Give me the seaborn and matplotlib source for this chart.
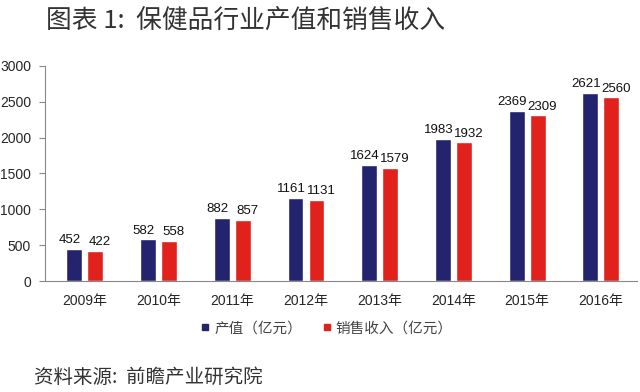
import numpy as np
import pandas as pd
import matplotlib
matplotlib.use('Agg')
import matplotlib.pyplot as plt
import seaborn as sns
from matplotlib.lines import Line2D

# data
years = ['2009年', '2010年', '2011年', '2012年', '2013年', '2014年', '2015年', '2016年']
output_value = [452, 582, 882, 1161, 1624, 1983, 2369, 2621]
sales_revenue = [422, 558, 857, 1131, 1579, 1932, 2309, 2560]
series_names = ['产值（亿元）', '销售收入（亿元）']
colors = ['#24246E', '#E0211C']

df = pd.DataFrame({
    'year': years * 2,
    'value': output_value + sales_revenue,
    'series': [series_names[0]] * len(years) + [series_names[1]] * len(years),
})

sns.set_style('white')
plt.rcParams['font.family'] = ['Liberation Sans', 'Noto Sans CJK SC', 'DejaVu Sans']

fig = plt.figure(figsize=(6.4, 3.92), dpi=100)
ax = fig.add_axes([0.0703, 0.283, 0.925, 0.549])

sns.barplot(data=df, x='year', y='value', hue='series', palette=colors,
            width=0.57, gap=0.25, saturation=1, ax=ax, legend=False)

# value labels, nudged apart a little so neighbours don't collide
for cont, dx in zip(ax.containers, [-3.2, 3.2]):
    for ann in ax.bar_label(cont, fmt='%d', padding=2, fontsize=9.5, color='#111111'):
        ann.xyann = (dx, 2)

ax.set_ylim(0, 3000)
ax.set_yticks(range(0, 3001, 500))
ax.set_xlim(-0.54, 7.49)
ax.set_xlabel('')
ax.set_ylabel('')
for s in ['top', 'right']:
    ax.spines[s].set_visible(False)
ax.spines['left'].set_color('#888888')
ax.spines['bottom'].set_color('#888888')
ax.tick_params(axis='y', left=True, length=4, color='#888888', labelsize=10, pad=6)
ax.tick_params(axis='x', bottom=False, labelsize=10, pad=6)

handles = [Line2D([], [], marker='s', color=c, linestyle='', markersize=4) for c in colors]
fig.legend(handles, series_names, loc='center', bbox_to_anchor=(0.508, 0.163), ncol=2,
           frameon=False, handletextpad=0.1, columnspacing=1.2, handlelength=1.0,
           labelcolor='#444444', prop={'family': ['Noto Sans CJK SC'], 'size': 10.5})

fig.text(0.072, 0.945, '图表 1:  保健品行业产值和销售收入', fontsize=18.5, fontweight='light',
         family=['Noto Sans CJK SC'], color='#333333', va='center')
fig.text(0.053, 0.036, '资料来源:  前瞻产业研究院', fontsize=14, fontweight='light',
         family=['Noto Sans CJK SC'], color='#333333', va='center')

fig.savefig('out.png', dpi=100)
